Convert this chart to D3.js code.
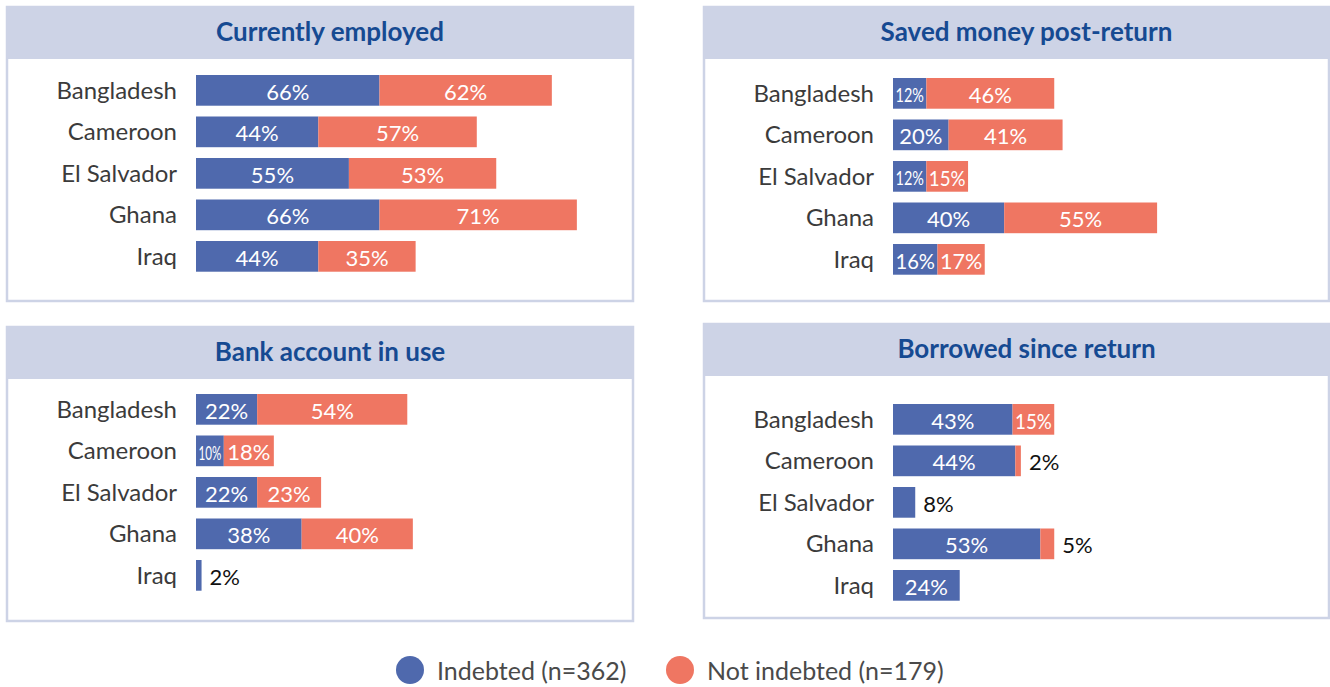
<!DOCTYPE html>
<html>
<head>
<meta charset="utf-8">
<script src="https://cdn.jsdelivr.net/npm/d3@7/dist/d3.min.js"></script>
<style>
  html, body { margin: 0; padding: 0; background: #ffffff; }
  svg { display: block; font-family: Lato, "Open Sans", sans-serif; }
</style>
</head>
<body>
<svg id="chart" width="1330" height="687"></svg>
<script>
// Countries shown in every panel
const countries = ["Bangladesh", "Cameroon", "El Salvador", "Ghana", "Iraq"];

// Panel titles
const panelTitles = ["Currently employed", "Saved money post-return", "Bank account in use", "Borrowed since return"];

// Share of returnees (%) per country, indebted vs not indebted
const employedIndebted = [66, 44, 55, 66, 44];
const employedNotIndebted = [62, 57, 53, 71, 35];
const savedIndebted = [12, 20, 12, 40, 16];
const savedNotIndebted = [46, 41, 15, 55, 17];
const bankIndebted = [22, 10, 22, 38, 2];
const bankNotIndebted = [54, 18, 23, 40, 0];
const borrowedIndebted = [43, 44, 8, 53, 24];
const borrowedNotIndebted = [15, 2, 0, 5, 0];

// Legend entries
const seriesNames = ["Indebted (n=362)", "Not indebted (n=179)"];

const colors = ["#4f69ad", "#ef7662"];
const headerFill = "#cdd3e6";
const titleColor = "#164a92";

const svg = d3.select("#chart");

// Layout of the four boxes
const panels = [
  { title: panelTitles[0], a: employedIndebted, b: employedNotIndebted, x: 7, y: 7, w: 626, h: 294, hh: 52, barTop: 75 },
  { title: panelTitles[1], a: savedIndebted, b: savedNotIndebted, x: 704, y: 7, w: 625, h: 294, hh: 52, barTop: 78 },
  { title: panelTitles[2], a: bankIndebted, b: bankNotIndebted, x: 7, y: 327, w: 626, h: 294, hh: 52, barTop: 394 },
  { title: panelTitles[3], a: borrowedIndebted, b: borrowedNotIndebted, x: 704, y: 324, w: 625, h: 294, hh: 52, barTop: 404 }
];

const step = 41.5;
const pad = 0.26;
const pxPerPct = 2.78;

panels.forEach(p => {
  const g = svg.append("g");

  // box and header band
  g.append("rect")
    .attr("x", p.x).attr("y", p.y).attr("width", p.w).attr("height", p.h)
    .attr("fill", "#fff").attr("stroke", headerFill).attr("stroke-width", 2.5);
  g.append("rect")
    .attr("x", p.x).attr("y", p.y).attr("width", p.w).attr("height", p.hh)
    .attr("fill", headerFill);
  g.append("text")
    .attr("x", p.x + p.w / 2 + 10).attr("y", p.y + p.hh / 2 - 2)
    .attr("text-anchor", "middle").attr("dominant-baseline", "central")
    .attr("font-size", 26).attr("font-weight", 700).attr("fill", titleColor)
    .text(p.title);

  const x0 = p.x + 189;
  const x = d3.scaleLinear().domain([0, 100]).range([x0, x0 + 100 * pxPerPct]);
  const off = step * pad / 2;
  const y = d3.scaleBand().domain(countries)
    .range([p.barTop - off, p.barTop - off + step * countries.length])
    .paddingInner(pad).paddingOuter(pad / 2);

  // country labels
  g.selectAll(".country").data(countries).enter().append("text")
    .attr("x", x0 - 19)
    .attr("y", d => y(d) + y.bandwidth() / 2 - 1)
    .attr("text-anchor", "end").attr("dominant-baseline", "central")
    .attr("font-size", 24).attr("fill", "#3b3b3b")
    .text(d => d);

  // one entry per stacked segment
  const segs = [];
  countries.forEach((c, i) => {
    if (p.a[i] > 0) segs.push({ c, v: p.a[i], start: 0, color: colors[0] });
    if (p.b[i] > 0) segs.push({ c, v: p.b[i], start: p.a[i], color: colors[1] });
  });

  const barLayer = g.append("g");
  const labelLayer = g.append("g");

  barLayer.selectAll("rect").data(segs).enter().append("rect")
    .attr("x", d => x(d.start))
    .attr("y", d => y(d.c))
    .attr("width", d => x(d.start + d.v) - x(d.start))
    .attr("height", y.bandwidth())
    .attr("fill", d => d.color);

  labelLayer.selectAll("text").data(segs).enter().append("text")
    .each(function (d) {
      const xs = x(d.start), xe = x(d.start + d.v);
      const inside = d.v >= 10;
      const t = d3.select(this)
        .attr("x", inside ? (xs + xe) / 2 : xe + 8)
        .attr("y", y(d.c) + y.bandwidth() / 2 + 1)
        .attr("text-anchor", inside ? "middle" : "start")
        .attr("dominant-baseline", "central")
        .attr("font-size", inside && d.v < 13 ? 20 : 22)
        .attr("fill", inside ? "#ffffff" : "#111111")
        .text(d.v + "%");
      // squeeze labels that would spill out of a narrow segment
      if (inside) {
        const room = xe - xs - 5;
        if (this.getComputedTextLength() > room) {
          t.attr("textLength", room).attr("lengthAdjust", "spacingAndGlyphs");
        }
      }
    });
});

// legend
const legend = svg.append("g");
const legendX = [410, 680];
seriesNames.forEach((name, i) => {
  legend.append("circle")
    .attr("cx", legendX[i]).attr("cy", 670).attr("r", 14)
    .attr("fill", colors[i]);
  legend.append("text")
    .attr("x", legendX[i] + 27).attr("y", 670)
    .attr("dominant-baseline", "central")
    .attr("font-size", 25).attr("fill", "#4a4a4a")
    .text(name);
});
</script>
</body>
</html>
